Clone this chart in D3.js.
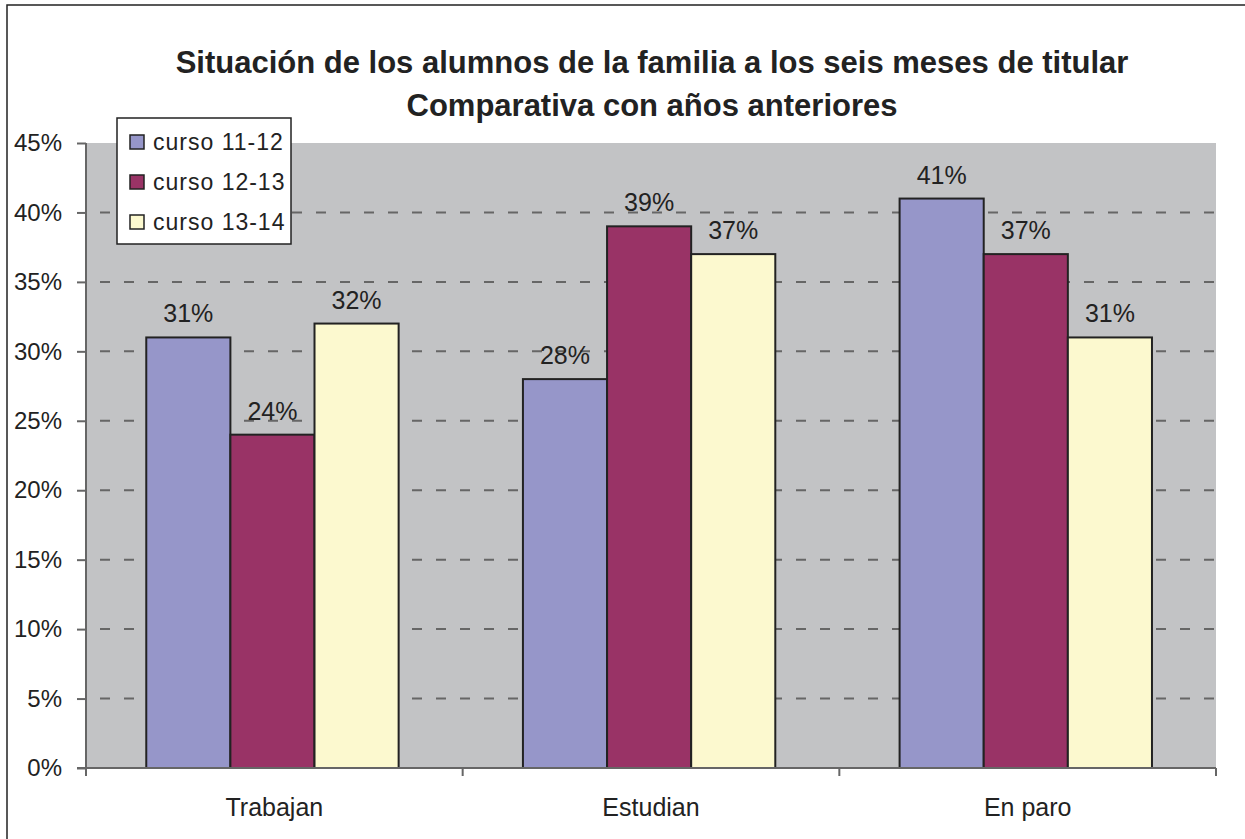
<!DOCTYPE html>
<html>
<head>
<meta charset="utf-8">
<script src="https://cdn.jsdelivr.net/npm/d3@7"></script>
<style>
  body { margin: 0; background: #fff; }
  svg text { font-family: "Liberation Sans", Arial, sans-serif; fill: #222; }
</style>
</head>
<body>
<div id="chart"></div>
<script>
// data //
var categories = ["Trabajan", "Estudian", "En paro"];
var seriesNames = ["curso 11-12", "curso 12-13", "curso 13-14"];
var curso1112 = [31, 28, 41];
var curso1213 = [24, 39, 37];
var curso1314 = [32, 37, 31];
var yTicks = [0, 5, 10, 15, 20, 25, 30, 35, 40, 45];
var titleLines = ["Situación de los alumnos de la familia a los seis meses de titular",
    "Comparativa con años anteriores"];

var colors = ["#9696c9", "#993366", "#fcf9cf"];
var seriesValues = [curso1112, curso1213, curso1314];

var W = 1245, H = 839;
var plot = {left: 86, right: 1216, top: 143, bottom: 768};

var svg = d3.select("#chart").append("svg")
    .attr("width", W)
    .attr("height", H);

// outer frame
svg.append("rect")
    .attr("x", 7).attr("y", 5)
    .attr("width", W + 10).attr("height", H + 10)
    .attr("fill", "#fff")
    .attr("stroke", "#222")
    .attr("stroke-width", 1.5);

// scales
var x0 = d3.scaleBand().domain(categories).range([plot.left, plot.right]);
var bw = x0.bandwidth();
var x1 = d3.scaleBand().domain(seriesNames).range([bw * 0.16, bw * 0.83]);
var y = d3.scaleLinear().domain([0, 45]).range([plot.bottom, plot.top]);

// plot background
svg.append("rect")
    .attr("x", plot.left).attr("y", plot.top)
    .attr("width", plot.right - plot.left)
    .attr("height", plot.bottom - plot.top)
    .attr("fill", "#c2c3c5");

// gridlines
svg.append("g")
    .selectAll("line")
    .data(yTicks.filter(function (d) { return d > 0 && d < 45; }))
    .enter().append("line")
    .attr("x1", plot.left).attr("x2", plot.right)
    .attr("y1", function (d) { return y(d); })
    .attr("y2", function (d) { return y(d); })
    .attr("stroke", "#666")
    .attr("stroke-width", 2)
    .attr("stroke-dasharray", "10,14")
    .attr("stroke-dashoffset", -14);

// bars
var groups = svg.append("g")
    .selectAll("g")
    .data(categories)
    .enter().append("g")
    .attr("transform", function (d) { return "translate(" + x0(d) + ",0)"; });

groups.selectAll("rect")
    .data(function (d, i) {
        return seriesNames.map(function (s, j) { return {s: s, v: seriesValues[j][i], j: j}; });
    })
    .enter().append("rect")
    .attr("x", function (d) { return x1(d.s); })
    .attr("width", x1.bandwidth())
    .attr("y", function (d) { return y(d.v); })
    .attr("height", function (d) { return y(0) - y(d.v); })
    .attr("fill", function (d) { return colors[d.j]; })
    .attr("stroke", "#222")
    .attr("stroke-width", 2);

// value labels
groups.selectAll("text")
    .data(function (d, i) {
        return seriesNames.map(function (s, j) { return {s: s, v: seriesValues[j][i]}; });
    })
    .enter().append("text")
    .attr("x", function (d) { return x1(d.s) + x1.bandwidth() / 2; })
    .attr("y", function (d) { return y(d.v) - 15; })
    .attr("text-anchor", "middle")
    .attr("font-size", 25)
    .text(function (d) { return d.v + "%"; });

// y axis
var yAxis = d3.axisLeft(y)
    .tickValues(yTicks)
    .tickSize(9)
    .tickPadding(15)
    .tickFormat(function (d) { return d + "%"; });
var gy = svg.append("g")
    .attr("transform", "translate(" + plot.left + ",0)")
    .call(yAxis);
gy.select(".domain").attr("stroke", "#666").attr("stroke-width", 2)
    .attr("d", "M0," + plot.top + "V" + (plot.bottom + 8));
gy.selectAll(".tick line").attr("stroke", "#666").attr("stroke-width", 2);
gy.selectAll(".tick text").attr("font-size", 24).attr("fill", "#222")
    .attr("font-family", "Liberation Sans, Arial, sans-serif");

// x axis
var xAxis = d3.axisBottom(x0).tickSize(0).tickPadding(30);
var gx = svg.append("g")
    .attr("transform", "translate(0," + plot.bottom + ")")
    .call(xAxis);
gx.select(".domain").attr("stroke", "#666").attr("stroke-width", 2)
    .attr("d", "M" + (plot.left - 9) + ",0H" + plot.right);
gx.selectAll(".tick text").attr("font-size", 25).attr("fill", "#222")
    .attr("font-family", "Liberation Sans, Arial, sans-serif");

// category boundary ticks
gx.append("g")
    .selectAll("line")
    .data(categories.concat([null]))
    .enter().append("line")
    .attr("x1", function (d) { return d ? x0(d) : plot.right; })
    .attr("x2", function (d) { return d ? x0(d) : plot.right; })
    .attr("y1", 0).attr("y2", 8)
    .attr("stroke", "#666")
    .attr("stroke-width", 2);

// title
svg.append("g")
    .selectAll("text")
    .data(titleLines)
    .enter().append("text")
    .attr("x", 652)
    .attr("y", function (d, i) { return 73 + i * 43; })
    .attr("text-anchor", "middle")
    .attr("font-size", 31)
    .attr("font-weight", "bold")
    .text(function (d) { return d; });

// legend
var legend = svg.append("g").attr("transform", "translate(117,118)");
legend.append("rect")
    .attr("width", 174).attr("height", 126)
    .attr("fill", "#fff")
    .attr("stroke", "#222")
    .attr("stroke-width", 1.5);
var item = legend.selectAll("g.item")
    .data(seriesNames)
    .enter().append("g")
    .attr("class", "item")
    .attr("transform", function (d, i) { return "translate(0," + (24 + i * 40) + ")"; });
item.append("rect")
    .attr("x", 13).attr("y", -7)
    .attr("width", 14).attr("height", 14)
    .attr("fill", function (d, i) { return colors[i]; })
    .attr("stroke", "#222")
    .attr("stroke-width", 1.5);
item.append("text")
    .attr("x", 36).attr("y", 8)
    .attr("font-size", 23)
    .attr("letter-spacing", 1)
    .text(function (d) { return d; });
</script>
</body>
</html>
